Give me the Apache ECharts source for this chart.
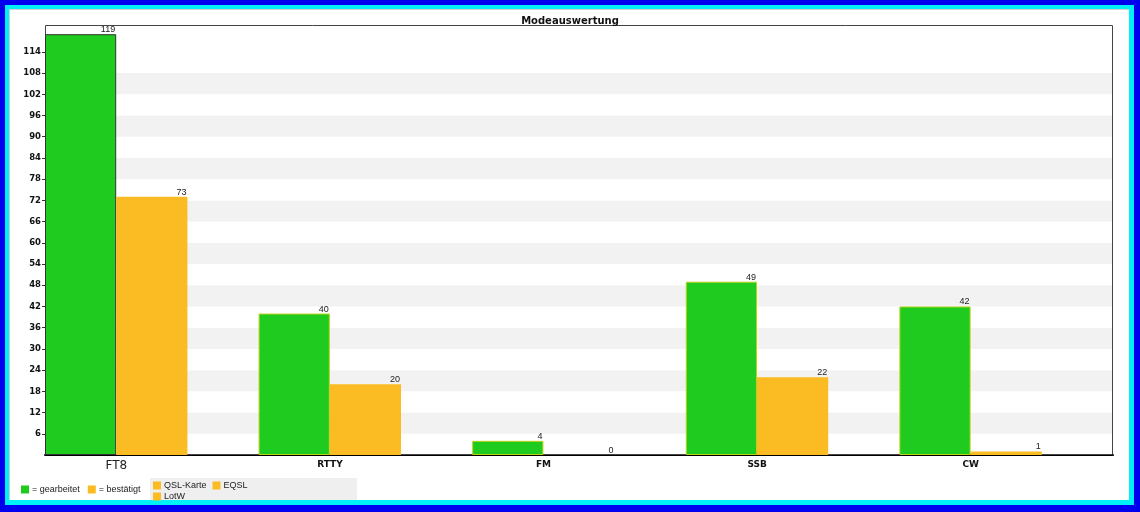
<!DOCTYPE html>
<html>
<head>
<meta charset="utf-8">
<script src="https://cdn.jsdelivr.net/npm/echarts@6/dist/echarts.min.js"></script>
<style>
html,body{margin:0;padding:0;width:1140px;height:512px;overflow:hidden;background:#0000ee;}
#c1{position:absolute;left:5px;top:5px;width:1129px;height:500px;background:#00f0f8;}
#c2{position:absolute;left:9px;top:9px;width:1120px;height:491px;background:#fff;border-left:1px solid #cfcfcf;border-top:1px solid #cfcfcf;box-sizing:border-box;}
#chart{position:absolute;left:0;top:0;width:1140px;height:512px;}
</style>
</head>
<body>
<div id="c1"></div>
<div id="c2"></div>
<div id="chart"></div>
<script>
const categories = ['FT8', 'RTTY', 'FM', 'SSB', 'CW'];
const worked = [119, 40, 4, 49, 42];
const confirmed = [73, 20, 0, 22, 1];
const yTicks = [6, 12, 18, 24, 30, 36, 42, 48, 54, 60, 66, 72, 78, 84, 90, 96, 102, 108, 114];
const confirmTypesRow1 = ['QSL-Karte', 'EQSL'];
const confirmTypesRow2 = ['LotW'];
const chartTitle = 'Modeauswertung';
const workedName = '= gearbeitet';
const confirmedName = '= bestätigt';

const GREEN = '#1ecb1e', ORANGE = '#fbbb22';
const FONT = 'DejaVu Sans';
const LFONT = 'Liberation Sans';
const chart = echarts.init(document.getElementById('chart'), null, {renderer: 'canvas'});

// split areas are drawn between the custom tick values (6-12, 12-18, ...)
const bandColors = [];
for (let i = 0; i < 20; i++) bandColors.push((i % 2 === 0 && i <= 16) ? '#f2f2f2' : '#ffffff');

const valueLabel = {
  show: true, position: ['100%', 0], align: 'right', verticalAlign: 'bottom',
  fontFamily: LFONT, fontSize: 9, color: '#222', offset: [-1, 0]
};

const series = [
  {
    name: workedName, type: 'bar', barGap: 0, barCategoryGap: 0,
    itemStyle: {color: GREEN, borderColor: '#b5d418', borderWidth: 1},
    label: valueLabel,
    data: worked.map((v, i) => i === 0 ? {value: v, itemStyle: {borderColor: '#333'}} : v)
  },
  {
    name: confirmedName, type: 'bar', barGap: 0, barCategoryGap: 0,
    itemStyle: {color: ORANGE},
    label: valueLabel,
    data: confirmed
  },
  {
    name: 'spacer', type: 'bar', barGap: 0, barCategoryGap: 0,
    itemStyle: {color: 'rgba(0,0,0,0)'}, silent: true,
    data: categories.map(() => 0)
  }
];
confirmTypesRow1.concat(confirmTypesRow2).forEach(n => series.push({name: n, type: 'line', data: [], itemStyle: {color: ORANGE}, lineStyle: {color: ORANGE}}));

const legendBase = {
  icon: 'rect', itemWidth: 8, itemHeight: 8, padding: 0, orient: 'horizontal',
  itemStyle: {borderWidth: 0},
  textStyle: {fontFamily: LFONT, fontSize: 9, color: '#222', padding: [0, 0, 0, -2]}
};

chart.setOption({
  animation: false,
  backgroundColor: 'transparent',
  title: {
    text: chartTitle, left: 'center', top: 11,
    textStyle: {fontFamily: FONT, fontSize: 10, fontWeight: 'bold', color: '#111'}
  },
  grid: {left: 45, top: 25, right: 27, bottom: 57, show: false},
  graphic: [
    {type: 'rect', left: 150, top: 478, shape: {width: 207, height: 22}, style: {fill: '#efefef'}, z: -1},
    {type: 'rect', shape: {x: 45.5, y: 25.5, width: 1067, height: 429}, style: {fill: null, stroke: '#444', lineWidth: 1}, z: 1, silent: true}
  ],
  legend: [
    Object.assign({}, legendBase, {data: [workedName, confirmedName], left: 21, top: 485, itemGap: 8}),
    Object.assign({}, legendBase, {data: confirmTypesRow1, left: 153, top: 481, itemGap: 6}),
    Object.assign({}, legendBase, {data: confirmTypesRow2, left: 153, top: 492, itemGap: 6})
  ],
  xAxis: {
    type: 'category',
    data: categories.map((c, i) => i === 0
      ? {value: c, textStyle: {fontSize: 12, fontWeight: 'normal', color: '#222'}}
      : c),
    axisLine: {lineStyle: {color: '#000', width: 2}},
    axisTick: {show: false},
    axisLabel: {fontFamily: FONT, fontSize: 9, fontWeight: 'bold', color: '#111', margin: 5, padding: [0, 71, 0, 0]},
    splitLine: {show: false}
  },
  yAxis: {
    type: 'value', min: 0, max: 121.6, interval: 6,
    axisLine: {show: false},
    axisTick: {show: true, length: 3, lineStyle: {color: '#333'}, customValues: yTicks},
    axisLabel: {
      fontFamily: FONT, fontSize: 8.5, fontWeight: 'bold', color: '#111', margin: 4,
      customValues: yTicks
    },
    splitLine: {show: false},
    splitArea: {show: true, areaStyle: {color: bandColors}}
  },
  series: series
});
</script>
</body>
</html>
